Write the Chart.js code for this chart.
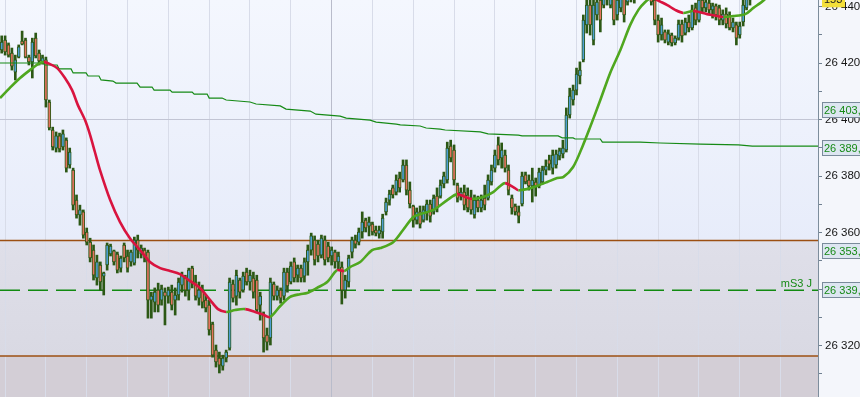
<!DOCTYPE html>
<html>
<head>
<meta charset="utf-8">
<title>Velas</title>
<script src="https://cdn.jsdelivr.net/npm/chart.js@4.4.1/dist/chart.umd.min.js"></script>
<style>
    html, body { margin: 0; padding: 0; background: #f4f6fb; overflow: hidden; }
    #grafico { display: block; }
</style>
</head>
<body>
<canvas id="grafico" width="860" height="397"></canvas>
<script>
// Velas (una por posicion en el eje x)
const aperturas = [
    26424.6, 26428.1, 26426.4, 26423.5, 26416.8, 26422.1, 26427.8, 26428.1, 26422.1, 26420.4,
    26428.8, 26423.5, 26420.4, 26421.1, 26406.2, 26396.3, 26389.9, 26394.2, 26390.3, 26392.7,
    26383.9, 26382.1, 26371.5, 26366.2, 26367.3, 26360.2, 26356.6, 26353.8, 26343.9, 26348.5,
    26344.6, 26348.5, 26352.4, 26353.5, 26352.4, 26347.4, 26355.6, 26351.7, 26349.6, 26349.2,
    26357.3, 26352.4, 26353.8, 26353.1, 26336.1, 26335.4, 26339.6, 26336.1, 26338.9, 26337.5,
    26338.9, 26336.1, 26337.9, 26341.4, 26343.9, 26339.6, 26347.4, 26342.5, 26336.8, 26339.6,
    26336.1, 26334.3, 26327.6, 26318.4, 26315.6, 26312.7, 26315.6, 26319.1, 26341.8, 26337.5,
    26343.2, 26339.6, 26346.0, 26342.5, 26343.9, 26343.2, 26334.3, 26330.8, 26323.7, 26322.7,
    26341.8, 26337.5, 26339.6, 26337.5, 26346.0, 26342.5, 26349.6, 26344.9, 26347.4, 26344.6,
    26349.6, 26353.8, 26357.3, 26355.9, 26352.0, 26357.3, 26355.2, 26351.7, 26353.1, 26349.6,
    26347.8, 26339.6, 26342.5, 26353.1, 26357.3, 26356.6, 26360.2, 26364.4, 26362.3, 26363.0,
    26360.9, 26359.5, 26360.2, 26367.3, 26371.5, 26375.8, 26374.3, 26379.3, 26378.6, 26383.9,
    26375.0, 26369.4, 26364.4, 26367.3, 26364.4, 26367.3, 26370.1, 26367.3, 26372.9, 26372.9,
    26377.2, 26378.6, 26390.6, 26389.2, 26376.8, 26372.9, 26374.3, 26373.3, 26372.2, 26366.2,
    26371.5, 26368.7, 26372.2, 26372.2, 26377.9, 26382.8, 26391.0, 26386.4, 26387.4, 26382.1,
    26372.2, 26369.4, 26367.3, 26370.1, 26380.4, 26378.6, 26376.5, 26377.9, 26376.5, 26377.9,
    26382.1, 26385.7, 26382.8, 26383.9, 26387.1, 26387.8, 26389.2, 26401.6, 26406.9, 26410.4,
    26415.4, 26421.1, 26433.5, 26440.5, 26428.1, 26437.0, 26442.3, 26440.5, 26445.1, 26440.5,
    26444.1, 26437.0, 26439.5, 26444.1, 26441.6, 26445.8, 26443.0, 26447.6, 26445.1, 26447.6,
    26444.1, 26445.8, 26442.3, 26435.2, 26429.9, 26431.0, 26427.4, 26429.9, 26427.1, 26428.8,
    26433.8, 26430.6, 26434.5, 26432.4, 26439.5, 26435.2, 26442.3, 26439.5, 26441.2, 26438.8,
    26440.2, 26439.5, 26435.2, 26437.3, 26437.0, 26432.4, 26433.5, 26429.9, 26434.5, 26439.5, 26442.3
];
const maximos = [
    26429.6, 26429.6, 26427.1, 26425.3, 26422.8, 26426.4, 26431.3, 26428.8, 26422.8, 26428.8,
    26430.6, 26424.6, 26422.8, 26422.1, 26406.9, 26397.3, 26395.6, 26395.2, 26396.3, 26393.5,
    26389.9, 26382.8, 26373.3, 26369.7, 26368.0, 26361.6, 26358.0, 26355.6, 26352.0, 26349.6,
    26346.0, 26356.3, 26355.9, 26353.8, 26353.1, 26351.7, 26356.3, 26353.8, 26353.8, 26358.4,
    26359.1, 26355.6, 26354.5, 26353.8, 26338.9, 26340.4, 26342.1, 26341.4, 26340.4, 26340.7,
    26341.4, 26340.4, 26343.9, 26346.0, 26344.9, 26347.4, 26348.1, 26344.9, 26342.5, 26341.4,
    26337.9, 26336.1, 26328.3, 26320.2, 26317.7, 26316.6, 26318.4, 26343.9, 26343.2, 26346.7,
    26343.9, 26346.0, 26347.4, 26346.7, 26346.0, 26344.9, 26338.9, 26331.9, 26326.2, 26343.9,
    26342.5, 26341.1, 26340.4, 26347.4, 26347.4, 26349.6, 26351.0, 26348.5, 26348.5, 26351.0,
    26355.6, 26359.8, 26358.8, 26357.3, 26359.1, 26358.8, 26356.6, 26354.9, 26353.8, 26353.1,
    26349.6, 26344.9, 26352.0, 26358.4, 26359.1, 26361.6, 26367.3, 26365.1, 26365.5, 26363.7,
    26362.3, 26362.3, 26366.5, 26372.2, 26375.0, 26376.8, 26380.4, 26381.4, 26385.7, 26385.7,
    26377.9, 26369.7, 26368.7, 26369.4, 26369.4, 26371.5, 26371.5, 26373.3, 26375.8, 26378.6,
    26381.4, 26392.0, 26392.7, 26391.0, 26377.5, 26375.8, 26376.8, 26375.8, 26375.0, 26373.3,
    26372.9, 26373.3, 26376.8, 26380.4, 26383.9, 26389.2, 26393.8, 26391.7, 26389.2, 26383.9,
    26373.3, 26370.1, 26369.4, 26381.4, 26381.4, 26380.4, 26382.8, 26379.3, 26382.8, 26383.5,
    26385.7, 26387.4, 26389.2, 26389.2, 26389.9, 26392.7, 26404.1, 26411.1, 26412.2, 26418.2,
    26420.4, 26437.0, 26444.1, 26444.1, 26444.1, 26445.1, 26444.1, 26445.8, 26447.6, 26446.5,
    26445.8, 26444.1, 26445.1, 26445.8, 26446.5, 26447.6, 26447.6, 26449.4, 26449.4, 26448.7,
    26447.6, 26446.5, 26444.1, 26437.0, 26435.9, 26431.7, 26431.7, 26430.6, 26429.6, 26435.2,
    26435.2, 26435.9, 26437.0, 26440.5, 26441.2, 26444.1, 26444.1, 26443.4, 26442.3, 26441.2,
    26440.9, 26440.5, 26438.8, 26439.5, 26438.1, 26435.9, 26434.5, 26434.5, 26442.3, 26444.1, 26445.1
];
const minimos = [
    26423.5, 26422.8, 26422.1, 26417.5, 26414.0, 26421.8, 26426.4, 26421.8, 26419.3, 26414.7,
    26421.8, 26419.3, 26419.6, 26404.4, 26396.3, 26389.2, 26388.5, 26388.5, 26389.2, 26381.4,
    26382.8, 26368.0, 26365.1, 26362.6, 26358.0, 26355.6, 26349.6, 26343.2, 26341.4, 26339.6,
    26337.9, 26346.7, 26351.7, 26348.5, 26345.7, 26346.0, 26349.6, 26346.0, 26348.1, 26348.5,
    26351.0, 26351.0, 26349.6, 26329.7, 26329.7, 26331.9, 26331.9, 26334.3, 26327.3, 26335.0,
    26332.6, 26330.8, 26336.1, 26338.9, 26337.5, 26336.1, 26340.4, 26336.1, 26334.3, 26333.3,
    26331.9, 26323.7, 26315.9, 26312.4, 26310.3, 26311.3, 26314.2, 26318.4, 26335.4, 26334.3,
    26336.8, 26338.9, 26341.4, 26339.6, 26336.8, 26331.9, 26329.0, 26317.7, 26318.4, 26320.2,
    26336.1, 26336.1, 26335.0, 26336.1, 26338.9, 26341.8, 26342.5, 26342.5, 26342.5, 26342.5,
    26344.9, 26352.0, 26348.5, 26349.6, 26351.0, 26348.5, 26349.6, 26348.5, 26347.4, 26346.7,
    26334.7, 26336.8, 26340.7, 26351.0, 26354.5, 26355.6, 26358.0, 26360.2, 26358.8, 26359.1,
    26358.8, 26358.0, 26358.0, 26366.2, 26369.7, 26372.2, 26373.3, 26374.3, 26377.9, 26373.3,
    26368.7, 26361.9, 26363.0, 26361.6, 26363.7, 26364.4, 26363.7, 26366.5, 26367.3, 26372.2,
    26375.8, 26377.5, 26385.0, 26376.8, 26370.8, 26371.5, 26368.0, 26367.3, 26366.5, 26365.1,
    26367.3, 26367.3, 26368.0, 26371.5, 26376.8, 26381.4, 26383.9, 26382.8, 26381.4, 26373.3,
    26366.5, 26366.2, 26363.4, 26369.4, 26377.2, 26375.0, 26370.8, 26372.9, 26375.8, 26377.2,
    26380.4, 26382.1, 26380.7, 26382.8, 26385.7, 26386.4, 26388.5, 26400.5, 26405.1, 26408.7,
    26412.6, 26420.4, 26430.6, 26429.9, 26426.4, 26435.2, 26431.0, 26439.5, 26440.5, 26439.5,
    26433.5, 26435.2, 26438.1, 26434.5, 26440.5, 26441.6, 26441.2, 26443.4, 26443.0, 26443.0,
    26442.3, 26440.5, 26433.5, 26427.4, 26428.1, 26427.1, 26426.4, 26426.0, 26426.4, 26428.1,
    26427.4, 26429.9, 26431.0, 26431.7, 26433.5, 26434.5, 26438.1, 26438.1, 26437.3, 26435.9,
    26435.2, 26433.5, 26433.5, 26432.4, 26431.7, 26431.0, 26426.4, 26428.8, 26433.1, 26438.8, 26440.5
];
const cierres = [
    26427.4, 26423.9, 26422.8, 26418.9, 26421.1, 26425.7, 26426.7, 26422.1, 26420.4, 26427.4,
    26422.5, 26420.7, 26421.8, 26406.9, 26397.0, 26390.3, 26394.2, 26389.6, 26394.9, 26382.8,
    26388.5, 26369.7, 26366.2, 26368.0, 26359.1, 26356.6, 26351.0, 26344.9, 26349.6, 26342.5,
    26345.7, 26355.6, 26355.2, 26349.6, 26346.7, 26351.0, 26351.0, 26347.4, 26353.1, 26357.3,
    26353.8, 26354.5, 26351.7, 26336.1, 26337.5, 26338.9, 26334.3, 26340.0, 26337.5, 26339.6,
    26334.3, 26337.9, 26342.5, 26344.9, 26339.6, 26346.7, 26342.1, 26337.5, 26339.6, 26335.4,
    26333.3, 26325.5, 26316.6, 26314.2, 26313.1, 26315.6, 26317.7, 26342.5, 26336.8, 26344.9,
    26338.9, 26344.6, 26342.5, 26344.9, 26338.9, 26332.6, 26337.5, 26322.7, 26321.2, 26342.5,
    26337.5, 26339.6, 26336.8, 26346.0, 26341.1, 26348.1, 26343.9, 26347.4, 26343.9, 26349.6,
    26353.8, 26358.8, 26350.3, 26351.7, 26358.0, 26350.3, 26351.0, 26353.8, 26349.6, 26351.7,
    26339.6, 26343.2, 26351.0, 26357.3, 26355.9, 26360.2, 26363.7, 26361.6, 26363.7, 26360.2,
    26359.8, 26360.9, 26365.1, 26370.8, 26373.6, 26373.3, 26378.6, 26375.8, 26383.9, 26375.0,
    26370.1, 26364.4, 26367.3, 26363.0, 26368.0, 26370.1, 26365.8, 26372.2, 26368.7, 26376.8,
    26380.0, 26389.9, 26386.4, 26378.6, 26372.2, 26374.3, 26369.7, 26368.7, 26368.0, 26371.5,
    26368.7, 26371.5, 26369.7, 26378.6, 26382.1, 26387.4, 26385.7, 26389.2, 26382.8, 26375.0,
    26368.7, 26367.3, 26365.8, 26380.0, 26377.9, 26376.5, 26378.6, 26376.5, 26381.4, 26382.1,
    26383.5, 26384.2, 26387.4, 26387.8, 26388.9, 26389.9, 26401.6, 26408.3, 26410.4, 26416.1,
    26417.5, 26435.2, 26440.5, 26433.5, 26440.5, 26441.6, 26435.2, 26444.1, 26442.3, 26444.1,
    26435.2, 26442.3, 26443.4, 26437.0, 26445.1, 26443.0, 26445.8, 26445.1, 26447.6, 26444.1,
    26446.5, 26441.6, 26435.2, 26429.9, 26433.5, 26428.1, 26430.3, 26427.1, 26428.8, 26433.8,
    26429.6, 26434.5, 26432.4, 26438.8, 26435.2, 26442.3, 26439.5, 26441.6, 26438.8, 26440.2,
    26437.0, 26435.2, 26437.3, 26433.8, 26432.4, 26434.5, 26428.8, 26433.1, 26440.5, 26443.0, 26444.1
];

// Media movil corta [posicion, valor]
const mediaCorta = [
    [-0.5, 26407.6], [2.4, 26411.2], [5.4, 26414.7], [8.3, 26417.5], [10.7, 26419.6], [12.4, 26420.4],
    [14.2, 26419.6], [16.3, 26418.2], [18.6, 26414.7], [20.7, 26410.4], [22.4, 26405.1], [24.5, 26399.8],
    [26.0, 26394.5], [27.4, 26388.5], [28.9, 26382.1], [31.9, 26371.5], [34.8, 26363.7], [37.7, 26358.0],
    [40.7, 26353.8], [43.6, 26349.6], [46.6, 26347.4], [49.5, 26346.4], [52.4, 26345.3], [55.4, 26342.8],
    [58.3, 26340.4], [61.3, 26336.1], [63.6, 26332.9], [66.0, 26331.9], [68.6, 26332.6], [71.6, 26332.9],
    [74.5, 26331.9], [76.6, 26331.1], [78.9, 26330.1], [81.9, 26334.0], [84.8, 26337.2], [87.7, 26338.2],
    [89.8, 26338.6], [92.7, 26340.4], [95.7, 26342.5], [98.6, 26346.7], [100.7, 26346.4], [102.4, 26347.8],
    [105.4, 26349.6], [108.9, 26353.8], [111.3, 26354.5], [115.1, 26356.6], [118.0, 26360.9], [121.0, 26365.5],
    [123.0, 26366.5], [126.9, 26368.0], [131.0, 26371.5], [133.9, 26373.6], [136.3, 26372.6], [138.3, 26371.9],
    [141.6, 26372.6], [144.5, 26374.3], [146.6, 26376.5], [148.0, 26377.5], [150.4, 26376.1], [151.9, 26375.0],
    [154.5, 26375.4], [157.4, 26376.5], [160.4, 26377.9], [163.3, 26379.3], [165.1, 26379.6], [168.0, 26383.2],
    [170.7, 26390.3], [173.0, 26397.3], [176.0, 26406.9], [178.9, 26416.5], [181.9, 26424.6], [184.8, 26433.5],
    [187.2, 26438.8], [189.2, 26441.6], [191.3, 26443.4], [192.7, 26442.3], [195.7, 26440.5], [198.0, 26438.8],
    [200.4, 26437.7], [203.3, 26438.4], [207.4, 26437.3], [212.2, 26436.3], [215.1, 26436.6], [218.6, 26437.3],
    [221.0, 26439.5], [223.0, 26441.2], [224.8, 26443.0]
];

// Media movil larga [posicion, valor]
const mediaLarga = [
    [-0.5, 26420.0], [12.2, 26420.0], [12.7, 26419.3], [16.3, 26419.3], [16.9, 26417.9], [20.4, 26417.9],
    [21.0, 26416.5], [24.8, 26416.5], [25.4, 26415.4], [28.6, 26415.4], [29.2, 26414.0], [32.7, 26413.6],
    [33.6, 26412.9], [39.8, 26412.9], [40.7, 26411.5], [44.2, 26411.5], [44.8, 26410.4], [49.5, 26410.4],
    [50.1, 26409.7], [56.0, 26409.7], [56.6, 26409.0], [60.4, 26409.0], [61.0, 26407.6], [64.8, 26407.6],
    [66.0, 26406.9], [73.0, 26406.2], [74.8, 26405.5], [81.9, 26404.8], [83.6, 26403.7], [90.7, 26403.0],
    [92.4, 26401.9], [99.5, 26401.2], [101.3, 26400.5], [108.3, 26399.8], [110.1, 26399.1], [116.0, 26398.4],
    [117.2, 26398.1], [123.0, 26397.7], [124.8, 26397.0], [128.9, 26396.6], [130.4, 26396.3], [140.7, 26395.6],
    [143.0, 26394.9], [151.9, 26394.5], [153.0, 26394.2], [163.6, 26394.2], [164.8, 26393.5], [168.0, 26393.5],
    [168.6, 26393.1], [176.0, 26393.1], [176.6, 26392.0], [187.7, 26392.0], [193.6, 26391.7], [205.4, 26391.3],
    [216.6, 26391.0], [220.7, 26390.6], [240.5, 26390.6]
];

// Niveles horizontales
const nivelSuperior = 26357.2;
const nivelInferior = 26316.3;
const nivelMS3 = 26339.6;

// Etiquetas de precio en el eje
const etiquetasValor = [26403.5, 26390.0, 26353.4, 26339.5];
const etiquetasTexto = ['26 403,', '26 389,', '26 353,', '26 339,'];
const precioActual = 26442.2;

// Lineas verticales de la rejilla
const lineasVerticales = [1, 13, 25, 37, 49, 61, 73, 85, 97, 109, 121, 133, 145, 157, 169, 181, 193, 205, 217, 229];
const lineaDia = 97;

const VERDE = '#4fa71f';
const ROJO = '#d9143f';
const AZUL_VELA = '#4d9fd3';
const ROJO_VELA = '#e5735f';
const BORDE_VELA = '#2c5815';
const FUENTE = "'Liberation Sans', Arial, sans-serif";

let grafico;

document.addEventListener('DOMContentLoaded', () => {
    inicializar();
});

function inicializar() {
    Chart.defaults.font.family = FUENTE;
    const ctx = document.getElementById('grafico').getContext('2d');
    grafico = new Chart(ctx, {
        type: 'bar',
        data: {
            datasets: [
                {
                    type: 'line',
                    data: mediaCorta.map(p => ({ x: p[0], y: p[1] })),
                    borderWidth: 2.6,
                    borderColor: VERDE,
                    segment: {
                        borderColor: s => s.p1.parsed.y < s.p0.parsed.y ? ROJO : VERDE
                    },
                    pointRadius: 0,
                    tension: 0.3,
                    order: 0
                },
                {
                    type: 'line',
                    data: mediaLarga.map(p => ({ x: p[0], y: p[1] })),
                    borderWidth: 1.2,
                    borderColor: '#168a16',
                    pointRadius: 0,
                    tension: 0,
                    order: 0
                },
                {
                    // cuerpos de las velas
                    data: aperturas.map((a, i) => ({ x: i, y: [a, cierres[i]] })),
                    backgroundColor: aperturas.map((a, i) => cierres[i] >= a ? AZUL_VELA : ROJO_VELA),
                    borderColor: BORDE_VELA,
                    borderWidth: 1,
                    borderSkipped: false,
                    barThickness: 3,
                    grouped: false,
                    order: 1
                },
                {
                    // mechas
                    data: maximos.map((h, i) => ({ x: i, y: [minimos[i], h] })),
                    backgroundColor: BORDE_VELA,
                    borderWidth: 0,
                    barThickness: 2,
                    grouped: false,
                    order: 2
                }
            ]
        },
        options: {
            responsive: false,
            animation: false,
            devicePixelRatio: 1,
            events: [],
            layout: { padding: 0 },
            plugins: {
                legend: { display: false },
                tooltip: { enabled: false }
            },
            scales: {
                x: {
                    type: 'linear',
                    min: -0.5,
                    max: 240,
                    offset: false,
                    afterBuildTicks: eje => {
                        eje.ticks = lineasVerticales.map(v => ({ value: v }));
                    },
                    afterFit: eje => {
                        eje.height = 0;
                        eje.paddingLeft = 0;
                        eje.paddingRight = 0;
                    },
                    ticks: { display: false },
                    grid: {
                        offset: false,
                        drawTicks: false,
                        color: c => (c.tick && c.tick.value === lineaDia) ? '#b9bccb' : '#d8dce9'
                    },
                    border: { display: false }
                },
                y: {
                    position: 'right',
                    min: 26301.8,
                    max: 26442.3,
                    afterFit: eje => {
                        eje.width = 42;
                        eje.paddingTop = 0;
                        eje.paddingBottom = 0;
                    },
                    ticks: {
                        stepSize: 10,
                        includeBounds: false,
                        autoSkip: false,
                        padding: 3,
                        color: '#151515',
                        font: { size: 11.5 },
                        callback: v => v % 20 === 0 ? formatearPrecio(v) : ''
                    },
                    grid: {
                        color: c => (c.tick && c.tick.value === 26400) ? '#c2c5d4' : 'rgba(0,0,0,0)',
                        tickColor: '#6f8091',
                        tickLength: 4
                    },
                    border: { color: '#7d8d9c', width: 1 }
                }
            }
        },
        plugins: [fondoPlugin, nivelesPlugin, etiquetasPlugin]
    });
}

function formatearPrecio(v) {
    return String(Math.round(v)).replace(/\B(?=(\d{3})+(?!\d))/g, ' ');
}

// Fondo con las zonas
const fondoPlugin = {
    id: 'fondo',
    beforeDraw(chart) {
        const { ctx, chartArea, scales } = chart;
        ctx.save();
        ctx.fillStyle = '#f4f6fb';
        ctx.fillRect(0, 0, chart.width, chart.height);

        const ySup = scales.y.getPixelForValue(nivelSuperior);
        const yInf = scales.y.getPixelForValue(nivelInferior);

        const grad = ctx.createLinearGradient(0, chartArea.top, 0, ySup);
        grad.addColorStop(0, '#f4f7fe');
        grad.addColorStop(1, '#e7ecfa');
        ctx.fillStyle = grad;
        ctx.fillRect(chartArea.left, chartArea.top, chartArea.width, ySup - chartArea.top);

        const grad2 = ctx.createLinearGradient(0, ySup, 0, yInf);
        grad2.addColorStop(0, '#dfdfe9');
        grad2.addColorStop(1, '#d9d9e3');
        ctx.fillStyle = grad2;
        ctx.fillRect(chartArea.left, ySup, chartArea.width, yInf - ySup);

        ctx.fillStyle = '#d3ced6';
        ctx.fillRect(chartArea.left, yInf, chartArea.width, chartArea.bottom - yInf);
        ctx.restore();
    }
};

// Lineas de niveles
const nivelesPlugin = {
    id: 'niveles',
    beforeDatasetsDraw(chart) {
        const { ctx, chartArea, scales } = chart;
        ctx.save();
        ctx.lineWidth = 1.5;
        ctx.strokeStyle = '#9c4f12';
        [nivelSuperior, nivelInferior].forEach(n => {
            const y = scales.y.getPixelForValue(n);
            ctx.beginPath();
            ctx.moveTo(chartArea.left, y);
            ctx.lineTo(chartArea.right, y);
            ctx.stroke();
        });

        const yMS3 = scales.y.getPixelForValue(nivelMS3);
        ctx.strokeStyle = '#118a11';
        ctx.setLineDash([20, 8]);
        ctx.beginPath();
        ctx.moveTo(chartArea.left, yMS3);
        ctx.lineTo(chartArea.right, yMS3);
        ctx.stroke();
        ctx.restore();
    }
};

// Etiquetas del eje y texto del nivel
const etiquetasPlugin = {
    id: 'etiquetas',
    afterDraw(chart) {
        const { ctx, chartArea, scales } = chart;
        const x0 = chartArea.right + 4;
        ctx.save();
        ctx.font = '11px ' + FUENTE;
        ctx.textBaseline = 'middle';

        etiquetasValor.forEach((v, i) => {
            const y = Math.round(scales.y.getPixelForValue(v));
            ctx.fillStyle = '#dde6f1';
            ctx.fillRect(x0, y - 8, 60, 16);
            ctx.strokeStyle = '#7a8b9b';
            ctx.lineWidth = 1;
            ctx.strokeRect(x0 + 0.5, y - 7.5, 60, 15);
            ctx.fillStyle = '#168a16';
            ctx.fillText(etiquetasTexto[i], x0 + 2, y + 1);
        });

        // precio actual (cortado arriba)
        const yAct = scales.y.getPixelForValue(precioActual);
        ctx.fillStyle = '#f3df3a';
        ctx.fillRect(x0, yAct - 8, 23, 15);
        ctx.fillStyle = '#222';
        ctx.fillText('153', x0 + 2, yAct);

        // texto del nivel mS3
        const yMS3 = scales.y.getPixelForValue(nivelMS3);
        ctx.font = '11px ' + FUENTE;
        ctx.textAlign = 'right';
        ctx.textBaseline = 'alphabetic';
        ctx.fillStyle = '#168a16';
        ctx.fillText('mS3 J', chartArea.right - 6, yMS3 - 3);
        ctx.restore();
    }
};
</script>
</body>
</html>
